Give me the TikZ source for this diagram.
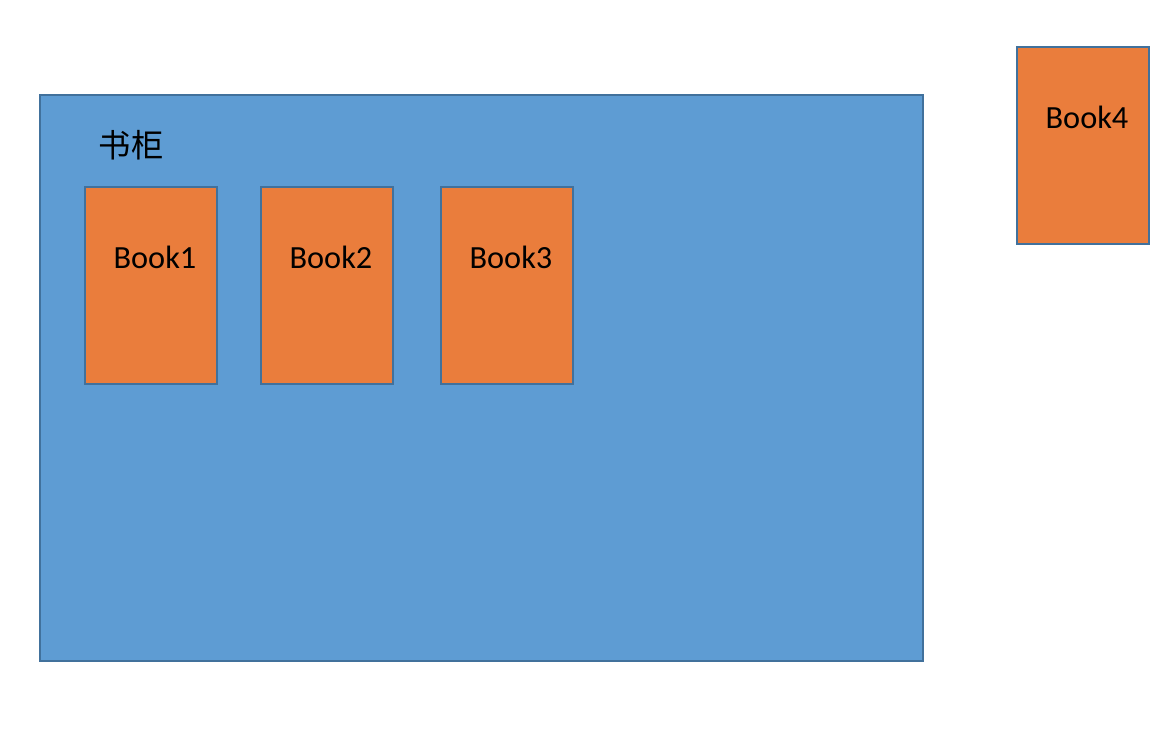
\documentclass[tikz,border=0pt]{standalone}
\usepackage{fontspec}
\setmainfont{Carlito}
\newfontfamily\cjk{Noto Sans CJK SC}
\usetikzlibrary{positioning}

\definecolor{shelfblue}{HTML}{5E9CD3}
\definecolor{bookorange}{HTML}{EA7D3C}
\definecolor{edgeblue}{HTML}{41719C}

\begin{document}
\begin{tikzpicture}[x=0.02cm,y=-0.02cm,
    shelf/.style={draw=edgeblue,fill=shelfblue,line width=0.8pt},
    book/.style={draw=edgeblue,fill=bookorange,line width=0.8pt,
        minimum width=2.64cm,minimum height=3.94cm,inner sep=0pt},
    booktitle/.style={font=\fontsize{18.4}{22}\selectfont,inner sep=0pt}]

    % Canvas
    \useasboundingbox (0,0) rectangle (1174,730);

    % Bookcase
    \draw[shelf] (40,95) rectangle (923,661);
    \node[font=\cjk\fontsize{18.4}{22}\selectfont,inner sep=0pt] (case) at (131,145) {书柜};

    % Books inside the case
    \node[book] (book1) at (151,285.5) {};
    \node[book] (book2) at (327,285.5) {};
    \node[book] (book3) at (507,285.5) {};

    % Book outside the case
    \node[book] (book4) at (1083,145.5) {};

    % Titles
    \node[booktitle] (t1) at (155,257) {Book1};
    \node[booktitle] (t2) at (331,257) {Book2};
    \node[booktitle] (t3) at (511,257) {Book3};
    \node[booktitle] (t4) at (1087,117) {Book4};

\end{tikzpicture}
\end{document}
